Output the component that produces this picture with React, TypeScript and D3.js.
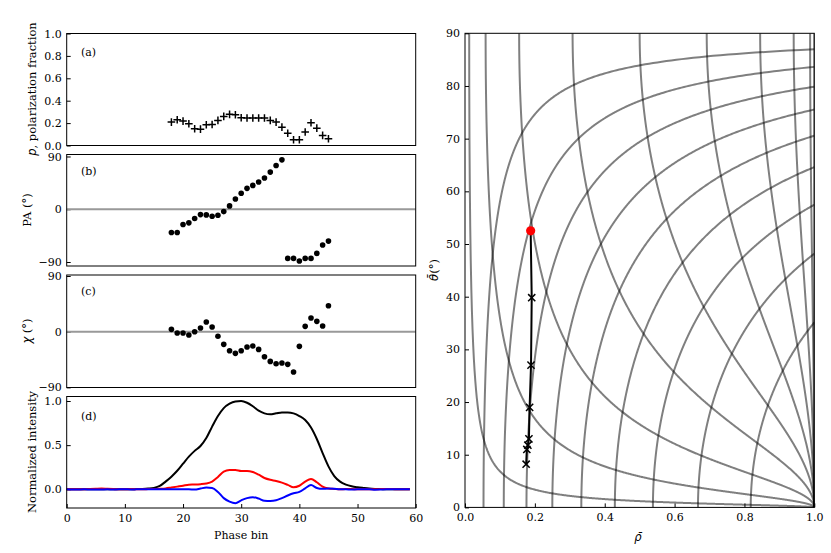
import React, { useEffect, useRef } from "react";
import * as d3 from "d3";

// phase bins that carry polarization measurements
const polBins = [18, 19, 20, 21, 22, 23, 24, 25, 26, 27, 28, 29, 30, 31, 32, 33, 34, 35, 36, 37, 38, 39, 40, 41, 42, 43, 44, 45];
const polFraction = [0.209, 0.23, 0.218, 0.194, 0.149, 0.146, 0.185, 0.188, 0.224, 0.26, 0.278, 0.275, 0.248, 0.245, 0.245, 0.245, 0.245, 0.224, 0.209, 0.164, 0.11, 0.051, 0.051, 0.12, 0.203, 0.155, 0.09, 0.06];
const posAngle = [-39.6, -39.6, -26, -23.2, -15.8, -9.1, -9.6, -11.9, -10.2, -4, 5.7, 17.5, 27.2, 35.7, 40.7, 46.4, 53.2, 63.4, 74.7, 84.3, -83.8, -83.8, -88.3, -83.8, -83.8, -75.3, -61.1, -54.3];
const ellipAngle = [3.8, -2.2, -2.2, -5.4, 0, 5.9, 15.6, 7.5, -7.5, -20.5, -30.7, -35, -30.7, -24.8, -23.2, -28.6, -40.4, -48, -51.7, -50.6, -52.8, -65.2, -23.7, 8.6, 22.1, 16.7, 9.2, 42];

// profiles, one value per phase bin 0..59
const totalI = [0, 0, 0, 0, 0, 0, 0, 0, 0, 0, 0, 0, 0.002, 0.004, 0.008, 0.016, 0.038, 0.087, 0.143, 0.21, 0.29, 0.37, 0.435, 0.49, 0.58, 0.71, 0.83, 0.92, 0.97, 0.995, 1.0, 0.98, 0.94, 0.89, 0.86, 0.85, 0.86, 0.87, 0.87, 0.86, 0.83, 0.785, 0.7, 0.57, 0.41, 0.26, 0.15, 0.087, 0.053, 0.034, 0.023, 0.015, 0.008, 0.004, 0.002, 0, 0, 0, 0, 0];
const linearI = [0, 0, 0, 0, 0.003, 0.006, 0.008, 0.005, 0.002, 0, 0, 0.002, 0, 0, 0.002, 0.004, 0.006, 0.01, 0.02, 0.03, 0.04, 0.052, 0.054, 0.058, 0.066, 0.088, 0.14, 0.2, 0.218, 0.219, 0.207, 0.207, 0.195, 0.165, 0.128, 0.107, 0.094, 0.075, 0.05, 0.023, 0.04, 0.087, 0.117, 0.08, 0.03, 0.01, 0.004, 0, 0.003, 0.002, 0, 0, 0, 0, 0.002, 0.004, 0.003, 0, 0, 0];
const circularI = [0, -0.003, -0.002, 0, -0.002, -0.003, -0.002, 0, -0.003, 0, 0, -0.002, -0.001, 0, 0, 0, 0, 0, 0, 0, 0, 0, -0.003, 0.008, 0.02, 0.015, -0.03, -0.1, -0.14, -0.157, -0.125, -0.1, -0.09, -0.105, -0.13, -0.132, -0.125, -0.1, -0.07, -0.045, -0.03, 0.01, 0.048, 0.015, 0.005, 0.008, 0.005, 0, 0, -0.003, 0, 0, 0, -0.005, -0.003, 0, 0, 0, 0, 0];

// right panel grid: rho crossings on theta=0 and on theta=90
const gridRhoAtZero = [0.053, 0.111, 0.176, 0.25, 0.333, 0.429, 0.538, 0.667, 0.818];
const gridRhoAtTop = [0.012, 0.059, 0.155, 0.308, 0.5, 0.692, 0.845, 0.941, 0.988, 1.0];

// fitted track
const trackRho = [0.188, 0.191, 0.189, 0.185, 0.183, 0.18, 0.177, 0.175];
const trackTheta = [52.5, 39.8, 27.0, 19.0, 13.0, 11.8, 11.0, 8.2];

const App: React.FC = () => {
  const ref = useRef<SVGSVGElement>(null);

  useEffect(() => {
    const svg = d3.select(ref.current);
    svg.selectAll("*").remove();
    const serif = "'DejaVu Serif', serif";
    const sans = "'DejaVu Sans', sans-serif";

    const x = d3.scaleLinear().domain([0, 60]).range([66.7, 415.7]);

    const styleAxis = (g: any) => {
      g.select(".domain").remove();
      g.attr("font-family", serif).attr("font-size", 11);
      g.selectAll(".tick line").attr("stroke", "#000");
      g.selectAll(".tick text").attr("fill", "#000");
    };

    const panel = (top: number, bottom: number, domain: number[], ticks: number[], fmt: (d: any) => string) => {
      const y = d3.scaleLinear().domain(domain).range([bottom, top]);
      const g = svg.append("g");
      g.append("g")
        .attr("transform", `translate(${x(0)},0)`)
        .call(d3.axisLeft(y).tickValues(ticks).tickFormat(fmt).tickSizeInner(-4).tickSizeOuter(0).tickPadding(5))
        .call(styleAxis);
      return { g, y, top, bottom };
    };

    const frame = (g: any, x0: number, y0: number, x1: number, y1: number) => {
      g.append("rect").attr("x", x0).attr("y", y0).attr("width", x1 - x0).attr("height", y1 - y0)
        .attr("fill", "none").attr("stroke", "#000").attr("stroke-width", 1);
    };

    const label = (t: string, lx: number, ly: number) => {
      svg.append("text").attr("x", lx).attr("y", ly).attr("font-family", serif).attr("font-size", 11).text(t);
    };

    const ylab = (cx: number, cy: number, parts: [string, boolean][]) => {
      const t = svg.append("text")
        .attr("transform", `translate(${cx},${cy}) rotate(-90)`)
        .attr("text-anchor", "middle").attr("dominant-baseline", "central")
        .attr("font-size", 11.5);
      parts.forEach(([s, math]) => {
        t.append("tspan").attr("font-family", math ? sans : serif)
          .attr("font-style", math ? "italic" : "normal").text(s);
      });
    };

    // (a) polarization fraction
    const a = panel(33.5, 145.5, [0, 1], [0, 0.2, 0.4, 0.6, 0.8, 1.0], d3.format(".1f"));
    a.g.selectAll("path.pm").data(polBins).enter().append("path")
      .attr("d", "M-3.8,0H3.8M0,-3.8V3.8")
      .attr("transform", (d, i) => `translate(${x(d)},${a.y(polFraction[i])})`)
      .attr("stroke", "#000").attr("stroke-width", 1.5).attr("fill", "none");
    frame(a.g, x(0), 33.5, x(60), 145.5);
    label("(a)", 81, 55.5);
    ylab(31.5, 89, [["p", true], [", polarization fraction", false]]);

    // (b) position angle
    const b = panel(154.5, 266, [-96.8, 93.4], [-90, 0, 90], d3.format("d"));
    b.g.append("line").attr("x1", x(0)).attr("x2", x(60)).attr("y1", b.y(0)).attr("y2", b.y(0))
      .attr("stroke", "#999").attr("stroke-width", 2);
    b.g.selectAll("circle").data(polBins).enter().append("circle")
      .attr("cx", (d) => x(d)).attr("cy", (d, i) => b.y(posAngle[i])).attr("r", 2.8).attr("fill", "#000");
    frame(b.g, x(0), 154.5, x(60), 266);
    label("(b)", 81, 175);
    ylab(27, 210, [["PA (°)", false]]);

    // (c) ellipticity angle
    const c = panel(275, 387.5, [-90.2, 91.6], [-90, 0, 90], d3.format("d"));
    c.g.append("line").attr("x1", x(0)).attr("x2", x(60)).attr("y1", c.y(0)).attr("y2", c.y(0))
      .attr("stroke", "#999").attr("stroke-width", 2);
    c.g.selectAll("circle").data(polBins).enter().append("circle")
      .attr("cx", (d) => x(d)).attr("cy", (d, i) => c.y(ellipAngle[i])).attr("r", 2.8).attr("fill", "#000");
    frame(c.g, x(0), 275, x(60), 387.5);
    label("(c)", 81, 295);
    ylab(27, 331, [["χ", true], [" (°)", false]]);

    // (d) profiles
    const d = panel(396.5, 508, [-0.212, 1.051], [0, 0.5, 1.0], d3.format(".1f"));
    d.g.append("g")
      .attr("transform", `translate(0,508)`)
      .call(d3.axisBottom(x).tickValues([0, 10, 20, 30, 40, 50, 60]).tickFormat(d3.format("d")).tickSizeInner(-4).tickSizeOuter(0).tickPadding(6))
      .call(styleAxis);
    const line = (vals: number[]) =>
      d3.line<number>().x((v, i) => x(i)).y((v) => d.y(v)).curve(d3.curveMonotoneX)(vals);
    [[totalI, "#000"], [linearI, "#f00"], [circularI, "#00f"]].forEach(([vals, col]) => {
      d.g.append("path").attr("d", line(vals as number[])).attr("fill", "none")
        .attr("stroke", col as string).attr("stroke-width", 2);
    });
    frame(d.g, x(0), 396.5, x(60), 508);
    label("(d)", 81, 419.5);
    ylab(31.5, 452, [["Normalized intensity", false]]);
    svg.append("text").attr("x", x(30)).attr("y", 539).attr("text-anchor", "middle")
      .attr("font-family", serif).attr("font-size", 11).text("Phase bin");

    // right panel
    const rx = d3.scaleLinear().domain([0, 1]).range([465, 814.3]);
    const ry = d3.scaleLinear().domain([0, 90]).range([507.4, 33.3]);
    const rg = svg.append("g");
    rg.append("clipPath").attr("id", "rclip").append("rect")
      .attr("x", 465).attr("y", 33.3).attr("width", 349.3).attr("height", 474.1);
    const grid = rg.append("g").attr("clip-path", "url(#rclip)");
    const toDeg = 180 / Math.PI;
    const gline = d3.line<[number, number]>().x((p) => rx(p[0])).y((p) => ry(p[1]));
    const steps = 700;
    gridRhoAtZero.forEach((c0) => {
      const tMax = Math.acos(c0);
      const pts: [number, number][] = [];
      for (let i = 0; i <= steps; i++) {
        const t = (tMax * i) / steps;
        pts.push([c0 / Math.cos(t), t * toDeg]);
      }
      grid.append("path").attr("d", gline(pts)).attr("fill", "none")
        .attr("stroke", "#000").attr("stroke-opacity", 0.5).attr("stroke-width", 2);
    });
    gridRhoAtTop.forEach((aTop) => {
      const pts: [number, number][] = [];
      for (let i = 0; i <= steps; i++) {
        const f = (Math.PI / 2) * (i / steps);
        const X = Math.cos(f), Y = aTop * Math.sin(f);
        pts.push([Math.hypot(X, Y), Math.atan2(Y, X) * toDeg]);
      }
      grid.append("path").attr("d", gline(pts)).attr("fill", "none")
        .attr("stroke", "#000").attr("stroke-opacity", 0.5).attr("stroke-width", 2);
    });

    const track: [number, number][] = trackRho.map((r, i) => [r, trackTheta[i]]);
    rg.append("path").attr("d", gline(track)).attr("fill", "none").attr("stroke", "#000").attr("stroke-width", 2);
    rg.selectAll("path.xm").data(track.slice(1)).enter().append("path")
      .attr("d", "M-3.6,-3.6L3.6,3.6M-3.6,3.6L3.6,-3.6")
      .attr("transform", (p) => `translate(${rx(p[0])},${ry(p[1])})`)
      .attr("stroke", "#000").attr("stroke-width", 1.5).attr("fill", "none");
    rg.append("circle").attr("cx", rx(track[0][0])).attr("cy", ry(track[0][1])).attr("r", 4.6).attr("fill", "#f00");

    rg.append("g").attr("transform", `translate(465,0)`)
      .call(d3.axisLeft(ry).tickValues(d3.range(0, 91, 10)).tickFormat(d3.format("d")).tickSizeInner(-4).tickSizeOuter(0).tickPadding(5))
      .call(styleAxis);
    rg.append("g").attr("transform", `translate(0,507.4)`)
      .call(d3.axisBottom(rx).tickValues([0, 0.2, 0.4, 0.6, 0.8, 1.0]).tickFormat(d3.format(".1f")).tickSizeInner(-4).tickSizeOuter(0).tickPadding(6))
      .call(styleAxis);
    frame(rg, 465, 33.3, 814.3, 507.4);

    svg.append("text").attr("x", 638).attr("y", 541).attr("text-anchor", "middle")
      .attr("font-family", sans).attr("font-style", "italic").attr("font-size", 11.5).text("ρ\u0304");
    const tl = svg.append("text").attr("transform", "translate(434,270) rotate(-90)")
      .attr("text-anchor", "middle").attr("dominant-baseline", "central").attr("font-size", 11.5);
    tl.append("tspan").attr("font-family", sans).attr("font-style", "italic").text("θ\u0304");
    tl.append("tspan").attr("font-family", serif).text("(°)");
  }, []);

  return (
    <svg
      ref={ref}
      width={831}
      height={553}
      style={{ position: "absolute", left: 0, top: 0, background: "#fff" }}
    />
  );
};

export default App;
